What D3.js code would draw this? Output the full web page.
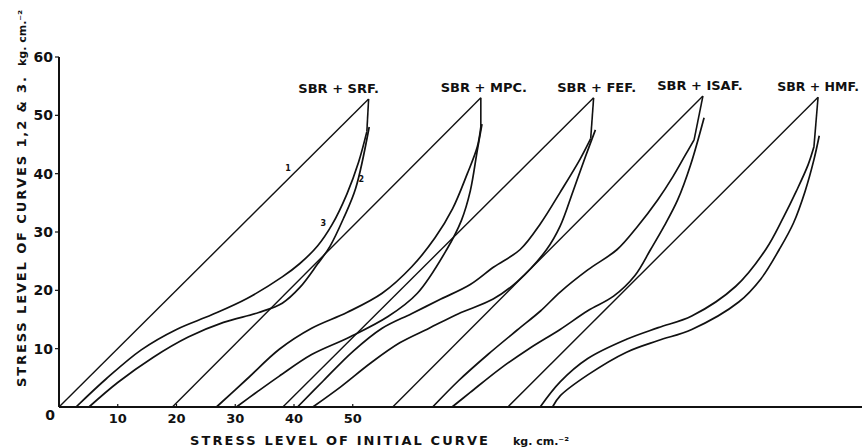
<!DOCTYPE html>
<html>
<head>
<meta charset="utf-8">
<script src="https://cdn.jsdelivr.net/npm/d3@7"></script>
<style>
  body { margin: 0; background: #fff; }
  text { font-family: "DejaVu Sans", sans-serif; fill: #111; }
</style>
</head>
<body>
<div id="chart"></div>
<script>
// compounds, one group of curves each
var groups = ["SBR + SRF.", "SBR + MPC.", "SBR + FEF.", "SBR + ISAF.", "SBR + HMF."];

// curve 1: straight initial loading, start on the x axis and peak
var line1Start = [0, 19.3, 38.1, 56.8, 76.4];
var peakX = [52.7, 71.8, 91.0, 109.6, 129.2];
var peakY = [52.8, 53.0, 53.0, 53.3, 53.1];

// curve joined to the drop line from the peak
var curveA = [
    [[2.9, 0], [8, 4.8], [14, 9.8], [20, 13.3], [26, 15.8], [32, 18.6], [38, 22.3], [41, 24.6], [44, 27.6], [46.5, 31.3], [49, 36.5], [51, 42], [52.4, 47.2]],
    [[26.8, 0], [32, 4.8], [37.5, 9.9], [43, 13.5], [49, 16.2], [55, 19.5], [60, 24], [64, 29], [67, 34], [69.5, 40], [71.2, 44.6], [71.8, 48]],
    [[40.6, 0], [45, 4.5], [50, 9.5], [55, 13.5], [60, 16], [65, 18.5], [70, 21], [74, 24], [78.5, 27], [82, 31.5], [85.3, 36.8], [88.7, 42.5], [90.5, 46]],
    [[63.6, 0], [68, 4.5], [73, 9], [78, 13.2], [82, 16.5], [85.3, 19.7], [90, 23.5], [95, 27], [98.5, 31], [101.9, 35.5], [104.5, 39.5], [106.5, 43], [108.1, 45.8]],
    [[81.9, 0], [85.3, 4.3], [90, 8.3], [96.6, 11.6], [102, 13.6], [107.7, 15.6], [115.2, 20.7], [120.3, 27], [123.3, 32.5], [125.5, 37], [127.5, 41.5], [128.5, 44.6]]
];

// the other reloading curve
var curveB = [
    [[5.1, 0], [10, 4.2], [16, 8.5], [22, 12], [28, 14.5], [34, 16.2], [38, 17.8], [41, 20.5], [44, 24.5], [46.1, 27.5], [48.5, 32.5], [50.5, 37.5], [52.8, 48]],
    [[30.2, 0], [34, 2.8], [37.5, 5.3], [43, 9], [49.5, 12], [56, 15.5], [61, 19.5], [66, 27], [68.5, 32], [70, 37], [71.2, 44], [72, 48.5]],
    [[43.2, 0], [48, 3.5], [53, 7.5], [58, 11], [63, 13.5], [68, 16], [73.9, 18.5], [78, 21.5], [83, 27], [85.3, 31], [87.5, 37], [89.6, 42.9], [91.3, 47.5]],
    [[66.9, 0], [70, 2.5], [75, 6.5], [80, 10], [85.3, 13.3], [90, 16.5], [94.4, 19], [98, 22.5], [100.7, 27], [103, 31], [105.3, 35.5], [107.5, 41.5], [109.8, 49.6]],
    [[84, 0], [85.3, 1.9], [90, 5.5], [96.6, 9.4], [102, 11.4], [107.7, 13.3], [115.7, 18], [119.5, 22], [122.6, 27], [125, 31.5], [127, 37], [128.5, 42.4], [129.4, 46.5]]
];

var yTicks = [0, 10, 20, 30, 40, 50, 60];
var xTicks = [10, 20, 30, 40, 50];

var width = 863, height = 448;

var svg = d3.select("#chart")
    .append("svg")
    .attr("width", width)
    .attr("height", height);

var x = d3.scaleLinear().domain([0, 136]).range([59, 858]);
var y = d3.scaleLinear().domain([0, 60]).range([407, 57]);

// axes drawn by hand to keep the old paper look
svg.append("line")
    .attr("x1", x(0)).attr("x2", x(0))
    .attr("y1", y(0)).attr("y2", y(60))
    .attr("stroke", "#111").attr("stroke-width", 2);
svg.append("line")
    .attr("x1", x(0)).attr("x2", 862)
    .attr("y1", y(0)).attr("y2", y(0))
    .attr("stroke", "#111").attr("stroke-width", 2);

// y ticks
svg.selectAll("ytick")
    .data(yTicks.filter(function(d) { return d > 0; }))
    .enter()
    .append("line")
    .attr("x1", x(0) - 4).attr("x2", x(0))
    .attr("y1", function(d) { return y(d); })
    .attr("y2", function(d) { return y(d); })
    .attr("stroke", "#111").attr("stroke-width", 1.2);
svg.selectAll("ylab")
    .data(yTicks)
    .enter()
    .append("text")
    .attr("x", function(d) { return d == 0 ? x(0) - 4 : x(0) - 6; })
    .attr("y", function(d) { return d == 0 ? y(d) + 13 : y(d) + 5; })
    .attr("text-anchor", "end")
    .style("font-size", "14px")
    .style("font-weight", "bold")
    .text(function(d) { return d; });

// x ticks
svg.selectAll("xtick")
    .data(xTicks)
    .enter()
    .append("line")
    .attr("x1", function(d) { return x(d); })
    .attr("x2", function(d) { return x(d); })
    .attr("y1", y(0) - 3).attr("y2", y(0))
    .attr("stroke", "#111").attr("stroke-width", 1.2);
svg.selectAll("xlab")
    .data(xTicks)
    .enter()
    .append("text")
    .attr("x", function(d) { return x(d); })
    .attr("y", y(0) + 16)
    .attr("text-anchor", "middle")
    .style("font-size", "13px")
    .style("font-weight", "bold")
    .text(function(d) { return d; });

// axis titles
svg.append("text")
    .attr("x", 190)
    .attr("y", 445)
    .attr("textLength", 298)
    .attr("lengthAdjust", "spacing")
    .style("font-size", "13px")
    .style("font-weight", "bold")
    .text("STRESS LEVEL OF INITIAL CURVE");
svg.append("text")
    .attr("x", 513)
    .attr("y", 445)
    .style("font-size", "11px")
    .style("font-weight", "bold")
    .text("kg. cm.⁻²");

svg.append("text")
    .attr("transform", "translate(26,387)rotate(-90)")
    .attr("textLength", 310)
    .attr("lengthAdjust", "spacing")
    .style("font-size", "13px")
    .style("font-weight", "bold")
    .text("STRESS LEVEL OF CURVES 1,2 & 3.");
svg.append("text")
    .attr("transform", "translate(26,66)rotate(-90)")
    .style("font-size", "11px")
    .style("font-weight", "bold")
    .text("kg. cm.⁻²");

var path = d3.line()
    .x(function(d) { return x(d[0]); })
    .y(function(d) { return y(d[1]); })
    .curve(d3.curveCatmullRom.alpha(0.5));

// label shifts from the peak, in pixels
var labelDx = [-30, 3, 3, -3, 0];

groups.forEach(function(g, i) {
    // curve 1
    svg.append("line")
        .attr("x1", x(line1Start[i])).attr("y1", y(0))
        .attr("x2", x(peakX[i])).attr("y2", y(peakY[i]))
        .attr("stroke", "#111").attr("stroke-width", 1.4);
    // drop from the peak
    var endA = curveA[i][curveA[i].length - 1];
    svg.append("line")
        .attr("x1", x(peakX[i])).attr("y1", y(peakY[i]))
        .attr("x2", x(endA[0])).attr("y2", y(endA[1]))
        .attr("stroke", "#111").attr("stroke-width", 1.6);
    // curves 2 and 3
    svg.append("path")
        .attr("d", path(curveA[i]))
        .attr("fill", "none").attr("stroke", "#111").attr("stroke-width", 1.7);
    svg.append("path")
        .attr("d", path(curveB[i]))
        .attr("fill", "none").attr("stroke", "#111").attr("stroke-width", 1.7);
    // compound label
    svg.append("text")
        .attr("x", x(peakX[i]) + labelDx[i])
        .attr("y", y(peakY[i]) - 6)
        .attr("text-anchor", "middle")
        .style("font-size", i == 4 ? "12.5px" : "13px")
        .style("font-weight", "bold")
        .text(g);
});

// curve numbers on the first group
var curveNums = ["1", "2", "3"];
var numPos = [[39, 40.5], [51.5, 38.5], [45, 31]];
svg.selectAll("num")
    .data(curveNums)
    .enter()
    .append("text")
    .attr("x", function(d, i) { return x(numPos[i][0]) - 3; })
    .attr("y", function(d, i) { return y(numPos[i][1]); })
    .style("font-size", "8px")
    .style("font-weight", "bold")
    .text(function(d) { return d; });
</script>
</body>
</html>
